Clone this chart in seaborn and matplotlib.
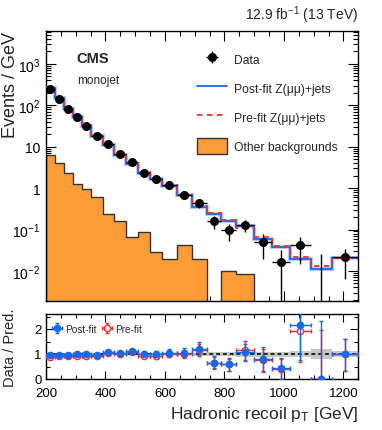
import numpy as np
import pandas as pd
import matplotlib
matplotlib.use('Agg')
import matplotlib.pyplot as plt
from matplotlib.ticker import MultipleLocator, FixedLocator, FixedFormatter, LogLocator, NullFormatter
from matplotlib.patches import Patch
from matplotlib.lines import Line2D
import seaborn as sns

# recoil binning (GeV)
bin_edges = [200, 230, 260, 290, 320, 350, 390, 430, 470, 510, 550, 590, 640,
             690, 740, 790, 840, 900, 960, 1020, 1090, 1160, 1250]

# events / GeV
data_vals = [249, 143, 82, 51.6, 31.3, 17.9, 11.7, 6.6, 4.3, 2.33, 1.64, 1.17,
             0.70, 0.43, 0.158, 0.099, 0.129, 0.049, 0.0162, 0.042, 0.0, 0.0214]
data_err_lo = [3.0, 2.2, 1.7, 1.3, 1.0, 0.67, 0.54, 0.41, 0.33, 0.24, 0.20, 0.15,
               0.12, 0.09, 0.055, 0.045, 0.043, 0.030, 0.0160, 0.027, 0.0, 0.015]
data_err_hi = [3.0, 2.2, 1.7, 1.3, 1.0, 0.67, 0.54, 0.41, 0.33, 0.24, 0.20, 0.15,
               0.12, 0.10, 0.060, 0.040, 0.041, 0.029, 0.016, 0.023, 0.026, 0.0126]
postfit_z = [259, 147, 83.7, 51.6, 31.3, 18.5, 10.9, 6.47, 3.87, 2.31, 1.66, 1.11,
             0.67, 0.36, 0.24, 0.165, 0.12, 0.060, 0.038, 0.0193, 0.0112, 0.021]
prefit_z = [277, 157, 90, 55.5, 33.7, 19.7, 11.1, 6.67, 4.02, 2.5, 1.76, 1.17,
            0.70, 0.374, 0.25, 0.17, 0.112, 0.065, 0.041, 0.022, 0.0134, 0.021]
other_bkg = [6.3, 4.0, 2.29, 1.26, 0.96, 0.62, 0.234, 0.158, 0.065, 0.086, 0.029, 0.020,
             0.042, 0.019, 0.0, 0.0102, 0.0085, 0.0, 0.0, 0.0, 0.0, 0.0]
# relative post-fit uncertainty (grey band in ratio)
fit_unc = [0.03, 0.03, 0.03, 0.03, 0.03, 0.03, 0.04, 0.04, 0.04, 0.04, 0.04, 0.04,
           0.05, 0.06, 0.08, 0.08, 0.10, 0.10, 0.10, 0.12, 0.19, 0.13]

sns.set_theme(style='ticks')
plt.rcParams['font.family'] = ['Liberation Sans', 'DejaVu Sans']
plt.rcParams['mathtext.fontset'] = 'custom'
plt.rcParams['mathtext.rm'] = 'Liberation Sans'
plt.rcParams['mathtext.it'] = 'Liberation Sans:italic'
plt.rcParams['mathtext.bf'] = 'Liberation Sans:bold'
plt.rcParams['mathtext.default'] = 'regular'

orange = '#fd9b37'
blue = '#1469f0'
red = '#ff2a2a'

edges = np.array(bin_edges, dtype=float)
centers = 0.5 * (edges[1:] + edges[:-1])
halfw = 0.5 * (edges[1:] - edges[:-1])
data = np.array(data_vals)
post = np.array(postfit_z)
pre = np.array(prefit_z)
bkg_df = pd.DataFrame({'recoil': centers, 'w': other_bkg})

fig = plt.figure(figsize=(3.82, 4.31), dpi=100)
ax = fig.add_axes([46/382, 1 - 301.7/431, 312.3/382, 270/431])
rax = fig.add_axes([46/382, 1 - 380/431, 312.3/382, 65/431])

# ---- main panel
ax.set_yscale('log')

sns.histplot(data=bkg_df, x='recoil', weights='w', bins=bin_edges, element='step', fill=True,
             color=orange, alpha=1, edgecolor='#333333', linewidth=1.0, ax=ax, zorder=1)
ax.set_ylabel('')
ax.set_xlabel('')
ax.stairs(post, edges, baseline=None, color='#b3cff9', lw=3.0, zorder=2)
ax.stairs(post, edges, baseline=None, color=blue, lw=1.3, zorder=3)
ax.stairs(pre, edges, baseline=None, color=red, lw=1.3, ls=(0, (3, 2.5)), zorder=4)
eb = ax.errorbar(centers, data, yerr=[data_err_lo, data_err_hi], xerr=halfw, fmt='o',
                 color='black', ms=5.5, lw=1.0, capsize=0, zorder=6)
ax.set_xlim(200, 1250)
ax.set_ylim(0.00192, 6340)

ax.xaxis.set_major_locator(MultipleLocator(200))
ax.xaxis.set_minor_locator(MultipleLocator(50))
ax.yaxis.set_major_locator(FixedLocator([1e-2, 1e-1, 1, 10, 100, 1000]))
ax.yaxis.set_major_formatter(FixedFormatter(['$10^{-2}$', '$10^{-1}$', '1', '10', '$10^{2}$', '$10^{3}$']))
ax.yaxis.set_minor_locator(LogLocator(base=10, subs=np.arange(2, 10), numticks=20))
ax.yaxis.set_minor_formatter(NullFormatter())
ax.tick_params(which='both', direction='in', top=True, right=True, labelbottom=False,
               labelsize=10, colors='black', width=0.8)
ax.tick_params(which='major', length=7, pad=4)
ax.tick_params(which='minor', length=3.5)
for s in ax.spines.values():
    s.set_color('black')
    s.set_linewidth(1.0)

handles = [eb,
           Line2D([], [], color=blue, lw=1.3),
           Line2D([], [], color=red, lw=1.3, ls=(0, (3, 2.5))),
           Patch(facecolor=orange, edgecolor='#333333', lw=1.0)]
labels = ['Data', 'Post-fit Z(\u03bc\u03bc)+jets', 'Pre-fit Z(\u03bc\u03bc)+jets', 'Other backgrounds']
ax.legend(handles, labels, loc='upper left', bbox_to_anchor=(0.482, 0.925), frameon=False,
          fontsize=8.7, handlelength=2.5, handleheight=1.7, labelspacing=1.05,
          handletextpad=0.6, borderpad=0, borderaxespad=0)

ax.text(0.096, 0.884, 'CMS', transform=ax.transAxes, fontsize=10.5, fontweight='bold',
        va='baseline', ha='left')
ax.text(0.099, 0.806, 'monojet', transform=ax.transAxes, fontsize=8.5, va='baseline', ha='left')

# ---- ratio panel
r_post = data / post
r_pre = data / pre
unc = np.array(fit_unc)
rax.stairs(1 + unc, edges, baseline=1 - unc, fill=True, color='#c8c8c8', lw=0, zorder=1)
rax.axhline(1, color='#222222', lw=1.4, ls=(0, (2, 1.5)), zorder=2)
e_pre = rax.errorbar(centers, r_pre, yerr=[np.array(data_err_lo) / pre, np.array(data_err_hi) / pre],
                     xerr=halfw, fmt='o', color=red, mfc='white', mec=red, mew=1.0, ms=4.5,
                     lw=1.0, capsize=1.5, zorder=3)
e_post = rax.errorbar(centers, r_post, yerr=[np.array(data_err_lo) / post, np.array(data_err_hi) / post],
                      xerr=halfw, fmt='o', color=blue, ms=4.5, lw=1.0, capsize=1.5, zorder=4)
rax.set_xlim(200, 1250)
rax.set_ylim(0, 2.6)
rax.legend([e_post, e_pre], ['Post-fit', 'Pre-fit'], loc='center left', bbox_to_anchor=(0.015, 0.77),
           ncol=2, frameon=False, fontsize=7.2, handlelength=1.2, handletextpad=0.2,
           columnspacing=0.5, borderpad=0, borderaxespad=0)

rax.xaxis.set_major_locator(MultipleLocator(200))
rax.xaxis.set_minor_locator(MultipleLocator(50))
rax.yaxis.set_major_locator(FixedLocator([0, 1, 2]))
rax.yaxis.set_minor_locator(MultipleLocator(0.5))
rax.tick_params(which='both', direction='in', top=True, right=True, labelsize=9.5,
                colors='black', width=0.8)
rax.tick_params(which='major', length=6, pad=3)
rax.tick_params(which='minor', length=3)
rax.tick_params(axis='x', which='major', pad=5.5, labelsize=9.5)
for s in rax.spines.values():
    s.set_color('black')
    s.set_linewidth(1.0)

# ---- labels
fig.text(0.028, 1 - 32/431, 'Events / GeV', rotation=90, ha='center', va='top', fontsize=13)
fig.text(0.027, 1 - 348/431, 'Data / Pred.', rotation=90, ha='center', va='center', fontsize=10.5)
fig.text(358/382, 1 - 419/431, 'Hadronic recoil p$_{T}$ [GeV]', ha='right', va='baseline', fontsize=12.5)
fig.text(358/382, 1 - 20/431, '12.9 fb$^{-1}$ (13 TeV)', ha='right', va='baseline', fontsize=10)

fig.savefig('out.png', dpi=100)
